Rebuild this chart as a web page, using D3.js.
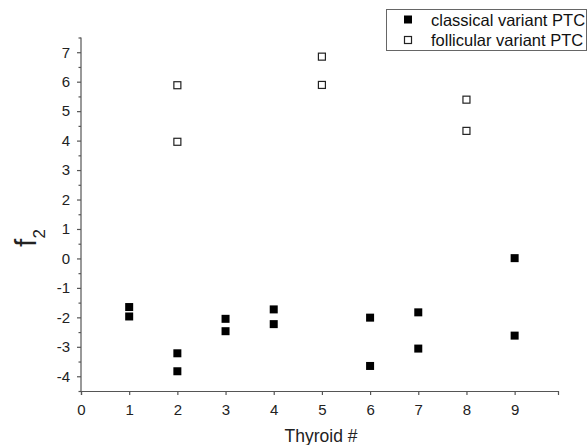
<!DOCTYPE html>
<html><head><meta charset="utf-8">
<script src="https://cdn.jsdelivr.net/npm/d3@7"></script>
<style>body{margin:0;background:#fff}svg{display:block;font-family:"Liberation Sans",Arial,sans-serif}</style>
</head><body><svg id="c" width="588" height="445"></svg>
<script>
const classicalX = [1,1,2,2,3,3,4,4,6,6,7,7,9,9];
const classicalY = [-1.65,-1.97,-3.22,-3.83,-2.05,-2.47,-1.73,-2.23,-2.01,-3.65,-1.83,-3.06,0.01,-2.62];
const follicularX = [2,2,5,5,8,8];
const follicularY = [5.88,3.96,6.85,5.89,5.39,4.33];
const xTicks = [0,1,2,3,4,5,6,7,8,9];
const yTicks = [-4,-3,-2,-1,0,1,2,3,4,5,6,7];
const seriesNames = ["classical variant PTC","follicular variant PTC"];

const svg = d3.select("#c");
const x = d3.scaleLinear().domain([0,9.9]).range([81,558]);
const y = d3.scaleLinear().domain([-4.5,7.5]).range([391,37.5]);
const axisCol = "#555";
const fmt = d => String(d);

// y axis
const ya = svg.append("g").attr("transform","translate(81,0)")
  .call(d3.axisLeft(y).tickValues(yTicks).tickSize(4).tickPadding(7).tickFormat(fmt));
const yMinor = svg.append("g").attr("transform","translate(81,0)")
  .call(d3.axisLeft(y).tickValues(d3.range(-4.5,7.51,1)).tickSize(2.5).tickFormat(""));
yMinor.select(".domain").remove();
// x axis
const xa = svg.append("g").attr("transform","translate(0,391)")
  .call(d3.axisBottom(x).tickValues(xTicks).tickSize(4).tickPadding(9).tickFormat(fmt));
[ya,yMinor,xa].forEach(g=>{
  g.selectAll("path,line").attr("stroke",axisCol).attr("stroke-width",1.2);
  g.selectAll("text").attr("fill","#222").style("font-size","15px").style("font-family","Liberation Sans, Arial, sans-serif");
});
ya.select(".domain").attr("d","M0,37.5V391");

// titles
svg.append("text").attr("x",321).attr("y",442).attr("text-anchor","middle")
  .style("font-size","17.5px").attr("fill","#222").text("Thyroid #");
const yt = svg.append("text").attr("transform","translate(36,238) rotate(-90)").attr("text-anchor","middle")
  .style("font-size","30px").attr("fill","#222");
yt.append("tspan").text("f");
yt.append("tspan").attr("dy",9).style("font-size","17px").text("2");

// points
const s = 8;
svg.append("g").selectAll("rect").data(classicalX.map((d,i)=>[d,classicalY[i]])).join("rect")
  .attr("x",d=>x(d[0])-s/2).attr("y",d=>y(d[1])-s/2).attr("width",s).attr("height",s).attr("fill","#000");
const so = 7;
svg.append("g").selectAll("rect").data(follicularX.map((d,i)=>[d,follicularY[i]])).join("rect")
  .attr("x",d=>x(d[0])-so/2).attr("y",d=>y(d[1])-so/2).attr("width",so).attr("height",so)
  .attr("fill","#fff").attr("stroke","#222").attr("stroke-width",1.2);

// legend
const lg = svg.append("g");
lg.append("rect").attr("x",386.5).attr("y",9.5).attr("width",200).attr("height",41).attr("fill","#fff").attr("stroke","#666").attr("stroke-width",1);
seriesNames.forEach((n,i)=>{
  const cy = 19.5 + i*20.5;
  if(i===0) lg.append("rect").attr("x",408-4).attr("y",cy-4).attr("width",8).attr("height",8).attr("fill","#000");
  else lg.append("rect").attr("x",408-3.5).attr("y",cy-3.5).attr("width",7).attr("height",7).attr("fill","#fff").attr("stroke","#222").attr("stroke-width",1.2);
  lg.append("text").attr("x",431).attr("y",cy+6).style("font-size","16.5px").attr("fill","#111").text(n);
});
</script></body></html>
